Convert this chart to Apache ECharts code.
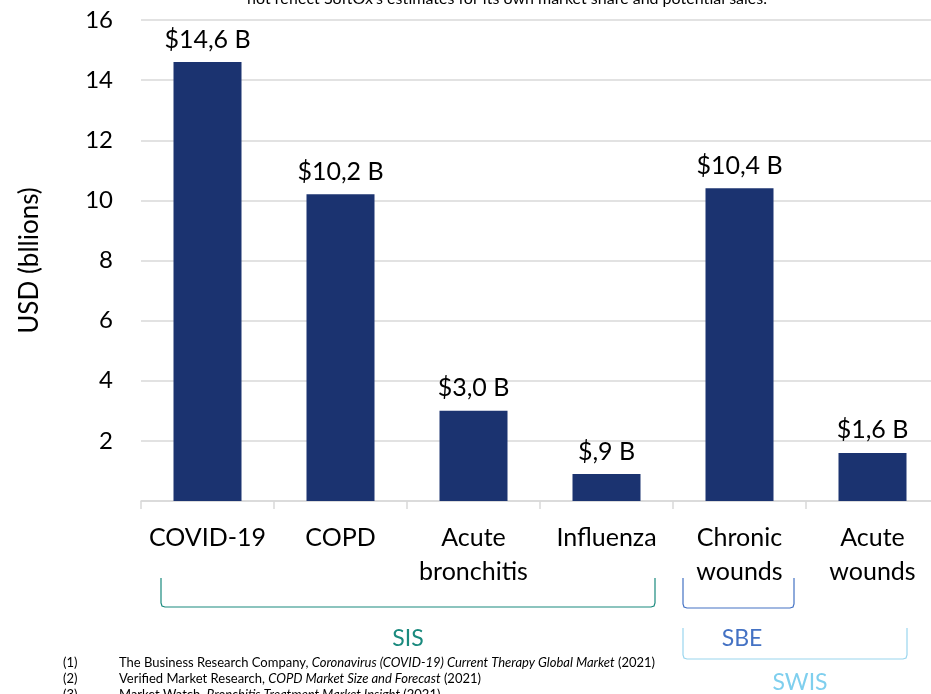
<!DOCTYPE html>
<html>
<head>
<meta charset="utf-8">
<script src="https://cdn.jsdelivr.net/npm/echarts@6/dist/echarts.min.js"></script>
<style>
  html, body { margin: 0; padding: 0; background: #fff; overflow: hidden; }
  /* the axis runs a little past the right edge of the picture */
  #chart { width: 939px; height: 694px; }
</style>
</head>
<body>
<div id="chart"></div>
<script>
// data
var categories = ['COVID-19', 'COPD', 'Acute\nbronchitis', 'Influenza', 'Chronic\nwounds', 'Acute\nwounds'];
var values = [14.6, 10.2, 3.0, 0.9, 10.4, 1.6];
var valueLabels = ['$14,6 B', '$10,2 B', '$3,0 B', '$,9 B', '$10,4 B', '$1,6 B'];
var yTicks = [2, 4, 6, 8, 10, 12, 14, 16];
var footnotes = [
  ['(1)', 'The Business Research Company, ', 'Coronavirus (COVID-19) Current Therapy Global Market', ' (2021)'],
  ['(2)', 'Verified Market Research, ', 'COPD Market Size and Forecast', ' (2021)'],
  ['(3)', 'Market Watch, ', 'Bronchitis Treatment Market Insight', ' (2021)']
];

var font = 'Lato, "Noto Sans", sans-serif';
var chart = echarts.init(document.getElementById('chart'));

// footnotes (rich text for the italic titles)
var footGraphics = [];
footnotes.forEach(function (f, i) {
  footGraphics.push({ type: 'text', x: 63, y: 663 + i * 16, style: { text: f[0], font: '13px ' + font, fill: '#000', verticalAlign: 'middle' } });
  footGraphics.push({ type: 'text', x: 119, y: 663 + i * 16, style: {
    text: '{n|' + f[1] + '}{i|' + f[2] + '}{n|' + f[3] + '}',
    verticalAlign: 'middle',
    rich: {
      n: { fontFamily: font, fontSize: 13, fill: '#000' },
      i: { fontFamily: font, fontSize: 13, fontStyle: 'italic', fill: '#000' }
    }
  } });
});

// bracket under a group of categories, slightly rounded corners
function bracket(x1, x2, yTop, yBot, color) {
  var r = 4;
  return {
    type: 'polyline',
    shape: { points: [
      [x1, yTop], [x1, yBot - r], [x1 + 1, yBot - 1], [x1 + r, yBot],
      [x2 - r, yBot], [x2 - 1, yBot - 1], [x2, yBot - r], [x2, yTop]
    ] },
    style: { fill: null, stroke: color, lineWidth: 1.2 }
  };
}

var option = {
  animation: false,
  backgroundColor: '#fff',
  grid: { left: 141, top: 20, right: 0, bottom: 193, containLabel: false },
  xAxis: {
    type: 'category',
    data: categories,
    axisLine: { lineStyle: { color: '#d9d9d9', width: 1.5 } },
    axisTick: { show: true, length: 8, lineStyle: { color: '#d9d9d9', width: 1.5 } },
    axisLabel: { color: '#000', fontSize: 25, fontFamily: font, margin: 20, lineHeight: 34, interval: 0 }
  },
  yAxis: {
    type: 'value',
    min: 0, max: 16, interval: 2,
    name: 'USD (bllions)',
    nameLocation: 'middle',
    nameGap: 98,
    nameRotate: 90,
    nameTextStyle: { color: '#000', fontSize: 26, fontFamily: font },
    axisLine: { show: false },
    axisTick: { show: false },
    splitLine: { lineStyle: { color: '#d9d9d9', width: 1.5 } },
    axisLabel: {
      color: '#000', fontSize: 24, fontFamily: font, margin: 28,
      formatter: function (v) { return yTicks.indexOf(v) >= 0 ? String(v) : ''; }
    }
  },
  series: [{
    type: 'bar',
    data: values,
    barWidth: 68,
    itemStyle: { color: '#1b3370' },
    label: {
      show: true,
      position: 'top',
      distance: 10,
      color: '#000',
      fontSize: 25,
      fontFamily: font,
      formatter: function (p) { return valueLabels[p.dataIndex]; }
    }
  }],
  graphic: [
    { type: 'text', x: 507, y: 7, style: {
        text: "not reflect SoftOx's estimates for its own market share and potential sales.",
        font: '16px ' + font, fill: '#000', align: 'center', verticalAlign: 'bottom' } },
    bracket(161, 655, 578, 607, '#1a8a7e'),
    bracket(683, 794, 578, 608, '#4472c4'),
    bracket(683, 907, 628, 659, '#9ad6ee'),
    { type: 'text', x: 408, y: 639, style: { text: 'SIS', font: '23px ' + font, fill: '#1a8a7e', align: 'center', verticalAlign: 'middle' } },
    { type: 'text', x: 742, y: 639, style: { text: 'SBE', font: '23px ' + font, fill: '#4472c4', align: 'center', verticalAlign: 'middle' } },
    { type: 'text', x: 800, y: 683, style: { text: 'SWIS', font: '23px ' + font, fill: '#7fcfee', align: 'center', verticalAlign: 'middle' } }
  ].concat(footGraphics)
};

chart.setOption(option);
</script>
</body>
</html>
